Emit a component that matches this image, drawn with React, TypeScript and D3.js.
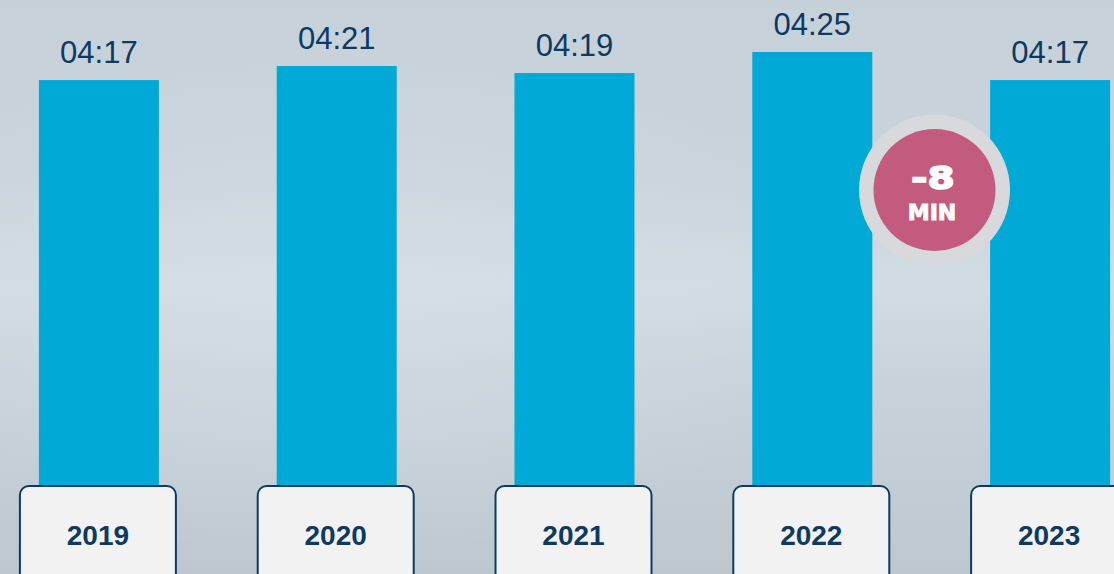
import React from "react";
import * as d3 from "d3";

const years = ["2019", "2020", "2021", "2022", "2023"];
const minutes = [257, 261, 259, 265, 257];
const labels = ["04:17", "04:21", "04:19", "04:25", "04:17"];
const badgeMain = "-8";
const badgeUnit = "MIN";

const W = 1114;
const H = 574;

export default function App() {
  const x = d3.scaleBand<string>().domain(years).range([-20, 1169]).paddingInner(0.496).paddingOuter(0.248);
  const y = d3.scaleLinear().domain([141, 265]).range([487, 52]);
  const bw = 120;
  return (
    <div style={{ position: "absolute", left: 0, top: 0 }}>
      <svg width={W} height={H} style={{ display: "block" }} fontFamily="'Liberation Sans', Arial, sans-serif">
        <defs>
          <linearGradient id="bg" x1="0" y1="0" x2="0" y2="1">
            <stop offset="0" stopColor="#c6d1da" />
            <stop offset="0.3" stopColor="#c9d3dc" />
            <stop offset="0.5" stopColor="#d2dce3" />
            <stop offset="0.65" stopColor="#c9d3db" />
            <stop offset="1" stopColor="#bcc7d0" />
          </linearGradient>
          <radialGradient id="glow" cx="0.3" cy="0.52" r="0.45">
            <stop offset="0" stopColor="#d8e0e6" stopOpacity="0.6" />
            <stop offset="1" stopColor="#d8e0e6" stopOpacity="0" />
          </radialGradient>
        </defs>
        <rect width={W} height={H} fill="url(#bg)" />
        <rect width={W} height={H} fill="url(#glow)" />
        {years.map((yr, i) => {
          const cx = (x(yr) as number) + x.bandwidth() / 2;
          const top = y(minutes[i]);
          return (
            <g key={yr}>
              <rect x={cx - bw / 2} y={top} width={bw} height={y(141) - top + 5} fill="#00a9d6" />
              <text x={cx} y={top - 17} textAnchor="middle" fontSize={31} fill="#0d3a63">
                {labels[i]}
              </text>
              <rect x={cx - 79} y={486} width={156} height={110} rx={9} fill="#f2f2f2" stroke="#0d3a63" strokeWidth={2} />
              <text x={cx - 1} y={545} textAnchor="middle" fontSize={28} fontWeight="bold" fill="#0d3a63">
                {yr}
              </text>
            </g>
          );
        })}
        <g transform="translate(934.5,190)">
          <circle r={75.5} fill="#d8d9dd" />
          <circle r={61} fill="#c25b7e" />
          <g transform="translate(-1.5,-1) scale(1.22,1)">
            <text textAnchor="middle" fontSize={32} fontWeight="900" fill="#ffffff" stroke="#ffffff" strokeWidth={1.6} fontFamily="'DejaVu Sans', sans-serif">
              {badgeMain}
            </text>
          </g>
          <g transform="translate(-2.5,30) scale(1.05,1)">
            <text textAnchor="middle" fontSize={21} fontWeight="900" fill="#ffffff" stroke="#ffffff" strokeWidth={0.9} fontFamily="'DejaVu Sans', sans-serif">
              {badgeUnit}
            </text>
          </g>
        </g>
      </svg>
    </div>
  );
}
